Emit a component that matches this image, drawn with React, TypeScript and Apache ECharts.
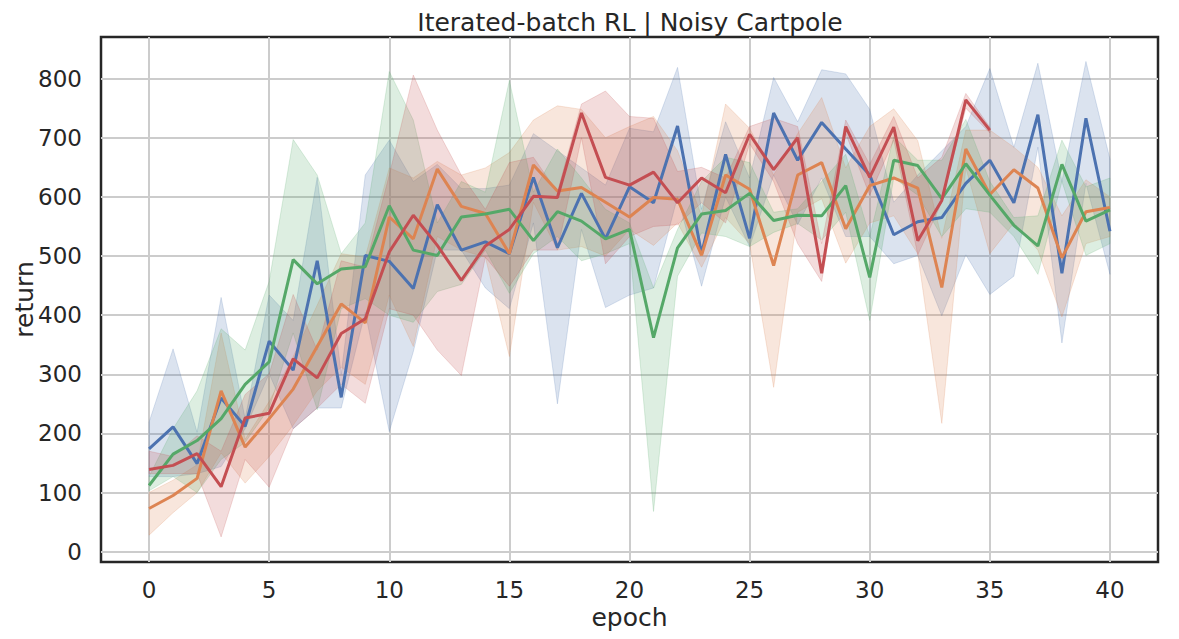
import React, { useEffect, useRef } from "react";
import * as echarts from "echarts";

const epochs = [0,1,2,3,4,5,6,7,8,9,10,11,12,13,14,15,16,17,18,19,20,21,22,23,24,25,26,27,28,29,30,31,32,33,34,35,36,37,38,39,40];
const xTicks = [0, 5, 10, 15, 20, 25, 30, 35, 40];
const yTicks = [0, 100, 200, 300, 400, 500, 600, 700, 800];

const blueMean = [174,211,149,260,212,356,307,492,261,501,491,445,587,510,524,504,633,514,606,529,617,590,720,504,672,530,742,662,726,681,637,536,558,565,623,662,590,739,471,733,542];
const blueUpper = [219,343,202,430,225,434,391,633,300,637,696,626,655,614,614,620,707,678,649,620,716,710,819,579,727,632,802,727,815,808,748,591,637,678,719,817,684,826,626,829,664];
const blueLower = [127,127,132,144,208,301,208,243,243,405,203,338,510,510,446,411,556,250,545,413,434,446,600,449,600,516,637,553,632,533,533,487,501,399,502,435,466,684,353,623,469];

const orangeMean = [73,95,124,272,177,225,275,347,419,387,566,529,647,584,572,504,654,610,616,591,566,599,596,501,637,613,484,637,658,546,619,632,615,447,681,604,646,615,497,575,582];
const orangeUpper = [100,121,147,370,190,254,330,417,504,498,649,632,660,637,649,675,730,754,748,700,719,736,678,568,757,716,637,707,768,649,719,749,695,530,713,713,684,650,568,629,600];
const orangeLower = [28,66,100,167,116,161,214,272,312,283,434,347,533,510,498,330,591,510,516,500,545,518,556,481,565,521,278,574,597,488,556,568,504,217,649,504,556,510,397,521,533];

const greenMean = [112,165,188,225,283,321,494,453,478,482,585,510,501,566,571,579,526,575,559,529,545,362,514,571,577,606,560,569,568,619,464,662,653,597,656,603,552,517,655,559,578];
const greenUpper = [127,208,272,377,341,457,697,637,504,556,812,730,556,626,608,797,608,681,632,579,556,446,545,626,667,658,574,580,626,672,533,702,662,662,731,626,565,568,696,617,632];
const greenLower = [103,127,100,156,185,243,370,240,411,428,400,388,440,452,510,437,504,533,492,504,521,68,466,539,533,516,540,555,527,574,391,632,603,533,580,574,533,469,626,501,521];

const redMean = [139,146,166,110,226,234,326,294,369,394,507,569,518,459,517,545,601,599,742,633,620,642,590,632,607,706,646,700,471,719,633,718,526,594,764,713];
const redUpper = [170,161,196,170,266,301,435,341,492,481,637,806,713,637,579,658,667,608,757,779,736,733,643,650,632,719,733,719,521,730,655,736,632,667,775,718];
const redLower = [132,132,132,25,156,109,208,243,283,251,411,400,341,298,498,449,510,510,700,487,533,550,553,590,556,690,626,521,457,707,603,696,502,591,750,708];

const BLUE = "#4C72B0";
const ORANGE = "#DD8452";
const GREEN = "#55A868";
const RED = "#C44E52";
const TEXT = "#262626";
const FONT = "DejaVu Sans";

function rgba(hex: string, a: number) {
  const r = parseInt(hex.slice(1, 3), 16);
  const g = parseInt(hex.slice(3, 5), 16);
  const b = parseInt(hex.slice(5, 7), 16);
  return `rgba(${r},${g},${b},${a})`;
}

function band(name: string, upper: number[], lower: number[], color: string) {
  return {
    type: "custom",
    name,
    silent: true,
    clip: true,
    z: 1,
    data: [[epochs[0], lower[0]]],
    renderItem: (_params: any, api: any) => {
      const pts: number[][] = [];
      for (let i = 0; i < upper.length; i++) pts.push(api.coord([epochs[i], upper[i]]));
      for (let i = lower.length - 1; i >= 0; i--) pts.push(api.coord([epochs[i], lower[i]]));
      return {
        type: "polygon",
        shape: { points: pts },
        style: { fill: rgba(color, 0.2), stroke: rgba(color, 0.2), lineWidth: 1 },
      };
    },
  };
}

function line(name: string, mean: number[], color: string) {
  return {
    type: "line",
    name,
    showSymbol: false,
    symbol: "none",
    z: 3,
    data: mean.map((v, i) => [epochs[i], v]),
    lineStyle: { color, width: 3 },
    itemStyle: { color },
  };
}

export default function App() {
  const ref = useRef<HTMLDivElement>(null);
  useEffect(() => {
    if (!ref.current) return;
    const chart = echarts.init(ref.current, undefined, { renderer: "svg" });
    chart.setOption({
      animation: false,
      backgroundColor: "#ffffff",
      title: {
        text: "Iterated-batch RL | Noisy Cartpole",
        left: 625,
        top: 5,
        textAlign: "center",
        textStyle: { fontFamily: FONT, fontSize: 25, fontWeight: "normal", color: TEXT },
      },
      grid: {
        left: 101,
        right: 21,
        top: 37,
        bottom: 77,
        containLabel: false,
        outerBoundsMode: "none",
        show: true,
        borderColor: TEXT,
        borderWidth: 2.5,
        backgroundColor: "transparent",
      },
      xAxis: {
        type: "value",
        min: -2,
        max: 42,
        name: "epoch",
        nameLocation: "middle",
        nameGap: 43,
        nameMoveOverlap: false,
        nameTextStyle: { fontFamily: FONT, fontSize: 25, color: TEXT },
        axisLine: { show: false },
        axisTick: { show: false, customValues: xTicks },
        axisLabel: { customValues: xTicks, fontFamily: FONT, fontSize: 23, color: TEXT, margin: 16 },
        splitLine: { show: true, lineStyle: { color: "#cccccc", width: 2 } },
      },
      yAxis: {
        type: "value",
        min: -17.4,
        max: 870.4,
        name: "return",
        nameLocation: "middle",
        nameGap: 64,
        nameMoveOverlap: false,
        nameTextStyle: { fontFamily: FONT, fontSize: 25, color: TEXT },
        axisLine: { show: false },
        axisTick: { show: false, customValues: yTicks },
        axisLabel: { customValues: yTicks, fontFamily: FONT, fontSize: 23, color: TEXT, margin: 19 },
        splitLine: { show: true, lineStyle: { color: "#cccccc", width: 2 } },
      },
      series: [
        band("blue band", blueUpper, blueLower, BLUE),
        band("orange band", orangeUpper, orangeLower, ORANGE),
        band("green band", greenUpper, greenLower, GREEN),
        band("red band", redUpper, redLower, RED),
        line("blue", blueMean, BLUE),
        line("orange", orangeMean, ORANGE),
        line("green", greenMean, GREEN),
        line("red", redMean, RED),
      ],
    });
    return () => chart.dispose();
  }, []);
  return (
    <div
      ref={ref}
      style={{ position: "fixed", left: 0, top: 0, width: 1179, height: 639, background: "#fff" }}
    />
  );
}
